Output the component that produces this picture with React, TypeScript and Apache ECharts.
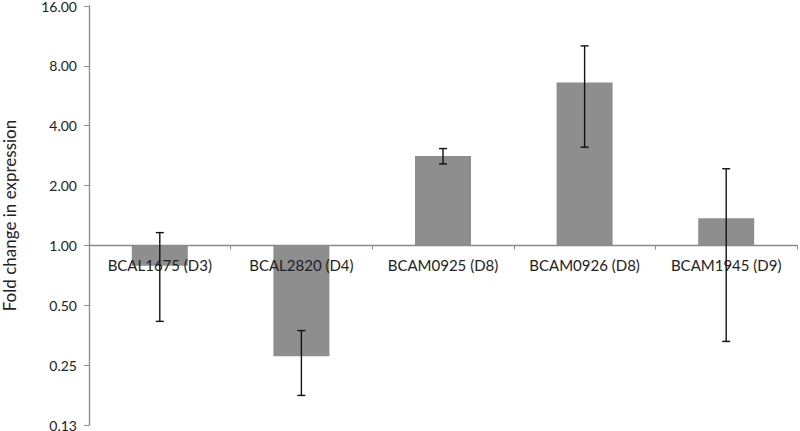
import React, { useEffect, useRef } from "react";
import * as echarts from "echarts";

const categories = ["BCAL1675 (D3)", "BCAL2820 (D4)", "BCAM0925 (D8)", "BCAM0926 (D8)", "BCAM1945 (D9)"];
const foldChange = [0.79, 0.277, 2.82, 6.6, 1.37];
const errLow = [0.415, 0.176, 2.57, 3.12, 0.329];
const errHigh = [1.16, 0.373, 3.07, 10.08, 2.43];
const tickValues = [0.125, 0.25, 0.5, 1, 2, 4, 8, 16];
const tickLabels = ["0.13", "0.25", "0.50", "1.00", "2.00", "4.00", "8.00", "16.00"];

export default function App() {
  const ref = useRef<HTMLDivElement>(null);
  useEffect(() => {
    const chart = echarts.init(ref.current!, undefined, { renderer: "svg" });
    const logMin = Math.log2(tickValues[0]);
    const logMax = Math.log2(tickValues[tickValues.length - 1]);
    const gridTop = 6;
    const gridBottom = 6;
    const plotH = 431 - gridTop - gridBottom;
    // distance from bottom of plot to the fold change = 1 baseline
    const zeroOffset = (plotH * (0 - logMin)) / (logMax - logMin);
    const font = "Lato, 'Open Sans', sans-serif";
    chart.setOption({
      animation: false,
      grid: { left: 89, right: 3, top: gridTop, bottom: gridBottom, containLabel: false, outerBoundsMode: "none" },
      xAxis: {
        type: "category",
        data: categories,
        boundaryGap: true,
        position: "bottom",
        offset: -zeroOffset,
        axisLine: { onZero: false, lineStyle: { color: "#8a8a8a", width: 1.3 } },
        axisTick: { show: true, length: 4, alignWithLabel: false, lineStyle: { color: "#8a8a8a" } },
        axisLabel: { color: "#222", fontSize: 15, fontFamily: font, margin: 12, interval: 0 },
        splitLine: { show: false },
        z: 10,
      },
      yAxis: {
        type: "value",
        min: logMin,
        max: logMax,
        interval: 1,
        name: "Fold change in expression",
        nameLocation: "middle",
        nameGap: 71,
        nameTextStyle: { color: "#222", fontSize: 17, fontFamily: font },
        axisLine: { show: true, onZero: false, lineStyle: { color: "#8a8a8a", width: 1.3 } },
        axisTick: { show: true, length: 5, lineStyle: { color: "#8a8a8a" } },
        splitLine: { show: false },
        axisLabel: {
          color: "#222",
          fontSize: 14,
          fontFamily: font,
          margin: 12,
          formatter: (v: number) => {
            const idx = tickValues.findIndex((t) => Math.abs(Math.log2(t) - v) < 1e-6);
            return idx >= 0 ? tickLabels[idx] : "";
          },
        },
      },
      series: [
        {
          type: "bar",
          data: foldChange.map((v) => Math.log2(v)),
          barWidth: 56,
          itemStyle: { color: "#8e8e8e" },
          z: 2,
        },
        {
          type: "custom",
          z: 12,
          data: categories.map((_, i) => [i, Math.log2(errLow[i]), Math.log2(errHigh[i])]),
          renderItem: (params: any, api: any) => {
            const lo = api.coord([api.value(0), api.value(1)]);
            const hi = api.coord([api.value(0), api.value(2)]);
            const x = lo[0];
            const cap = 4;
            const style = { stroke: "#111", lineWidth: 1.4 };
            return {
              type: "group",
              children: [
                { type: "line", shape: { x1: x, y1: lo[1], x2: x, y2: hi[1] }, style },
                { type: "line", shape: { x1: x - cap, y1: lo[1], x2: x + cap, y2: lo[1] }, style },
                { type: "line", shape: { x1: x - cap, y1: hi[1], x2: x + cap, y2: hi[1] }, style },
              ],
            };
          },
        },
      ],
    });
    return () => chart.dispose();
  }, []);
  return <div ref={ref} style={{ width: 800, height: 431, position: "absolute", left: 0, top: 0, background: "#fff" }} />;
}
